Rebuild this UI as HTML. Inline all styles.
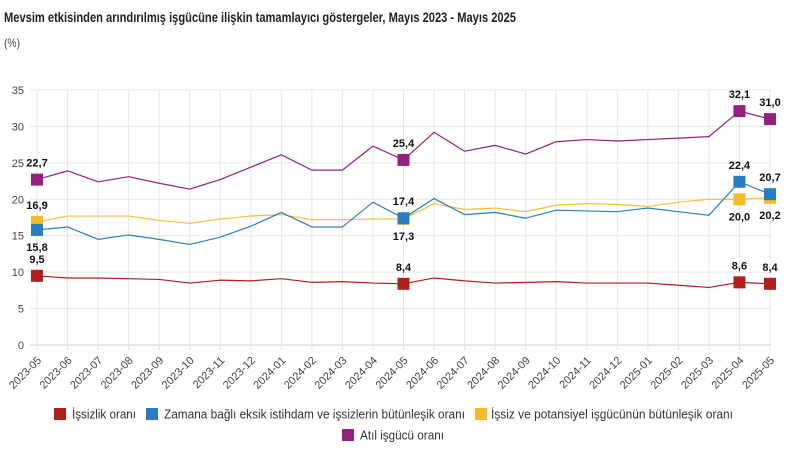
<!DOCTYPE html>
<html>
<head>
<meta charset="utf-8">
<style>
  html,body{margin:0;padding:0;background:#fff;}
  svg{display:block;}
  text{font-family:"Liberation Sans","DejaVu Sans",sans-serif;}
</style>
</head>
<body>
<svg width="803" height="457" viewBox="0 0 803 457" xmlns="http://www.w3.org/2000/svg">
  <rect width="803" height="457" fill="#fff"/>
  <!-- Title -->
  <text x="4" y="22" font-size="14" font-weight="bold" fill="#222" textLength="512" lengthAdjust="spacingAndGlyphs">Mevsim etkisinden arındırılmış işgücüne ilişkin tamamlayıcı göstergeler, Mayıs 2023 - Mayıs 2025</text>
  <text x="4" y="47" font-size="12" fill="#444" textLength="16" lengthAdjust="spacingAndGlyphs">(%)</text>

  <!-- vertical grid lines -->
  <g stroke="#e6e6e6" stroke-width="1">
    <line x1="37" y1="90" x2="37" y2="350"/>
    <line x1="67.54" y1="90" x2="67.54" y2="350"/>
    <line x1="98.08" y1="90" x2="98.08" y2="350"/>
    <line x1="128.63" y1="90" x2="128.63" y2="350"/>
    <line x1="159.17" y1="90" x2="159.17" y2="350"/>
    <line x1="189.71" y1="90" x2="189.71" y2="350"/>
    <line x1="220.25" y1="90" x2="220.25" y2="350"/>
    <line x1="250.79" y1="90" x2="250.79" y2="350"/>
    <line x1="281.33" y1="90" x2="281.33" y2="350"/>
    <line x1="311.88" y1="90" x2="311.88" y2="350"/>
    <line x1="342.42" y1="90" x2="342.42" y2="350"/>
    <line x1="372.96" y1="90" x2="372.96" y2="350"/>
    <line x1="403.5" y1="90" x2="403.5" y2="350"/>
    <line x1="434.04" y1="90" x2="434.04" y2="350"/>
    <line x1="464.58" y1="90" x2="464.58" y2="350"/>
    <line x1="495.13" y1="90" x2="495.13" y2="350"/>
    <line x1="525.67" y1="90" x2="525.67" y2="350"/>
    <line x1="556.21" y1="90" x2="556.21" y2="350"/>
    <line x1="586.75" y1="90" x2="586.75" y2="350"/>
    <line x1="617.29" y1="90" x2="617.29" y2="350"/>
    <line x1="647.83" y1="90" x2="647.83" y2="350"/>
    <line x1="678.38" y1="90" x2="678.38" y2="350"/>
    <line x1="708.92" y1="90" x2="708.92" y2="350"/>
    <line x1="739.46" y1="90" x2="739.46" y2="350"/>
    <line x1="770" y1="90" x2="770" y2="350"/>
  </g>
  <!-- horizontal grid lines -->
  <g stroke="#e6e6e6" stroke-width="1">
    <line x1="30" y1="90" x2="771" y2="90"/>
    <line x1="30" y1="126.43" x2="771" y2="126.43"/>
    <line x1="30" y1="162.86" x2="771" y2="162.86"/>
    <line x1="30" y1="199.29" x2="771" y2="199.29"/>
    <line x1="30" y1="235.71" x2="771" y2="235.71"/>
    <line x1="30" y1="272.14" x2="771" y2="272.14"/>
    <line x1="30" y1="308.57" x2="771" y2="308.57"/>
  </g>
  <line x1="30" y1="345" x2="771" y2="345" stroke="#cccccc" stroke-width="1"/>

  <!-- y labels -->
  <g font-size="11" fill="#444" text-anchor="end">
    <text x="24" y="94">35</text>
    <text x="24" y="130.4">30</text>
    <text x="24" y="166.9">25</text>
    <text x="24" y="203.3">20</text>
    <text x="24" y="239.7">15</text>
    <text x="24" y="276.1">10</text>
    <text x="24" y="312.6">5</text>
    <text x="24" y="349">0</text>
  </g>

  <!-- x labels -->
  <g font-size="11" fill="#444" text-anchor="end">
    <text transform="translate(42,361) rotate(-45)">2023-05</text>
    <text transform="translate(72.54,361) rotate(-45)">2023-06</text>
    <text transform="translate(103.08,361) rotate(-45)">2023-07</text>
    <text transform="translate(133.63,361) rotate(-45)">2023-08</text>
    <text transform="translate(164.17,361) rotate(-45)">2023-09</text>
    <text transform="translate(194.71,361) rotate(-45)">2023-10</text>
    <text transform="translate(225.25,361) rotate(-45)">2023-11</text>
    <text transform="translate(255.79,361) rotate(-45)">2023-12</text>
    <text transform="translate(286.33,361) rotate(-45)">2024-01</text>
    <text transform="translate(316.88,361) rotate(-45)">2024-02</text>
    <text transform="translate(347.42,361) rotate(-45)">2024-03</text>
    <text transform="translate(377.96,361) rotate(-45)">2024-04</text>
    <text transform="translate(408.5,361) rotate(-45)">2024-05</text>
    <text transform="translate(439.04,361) rotate(-45)">2024-06</text>
    <text transform="translate(469.58,361) rotate(-45)">2024-07</text>
    <text transform="translate(500.13,361) rotate(-45)">2024-08</text>
    <text transform="translate(530.67,361) rotate(-45)">2024-09</text>
    <text transform="translate(561.21,361) rotate(-45)">2024-10</text>
    <text transform="translate(591.75,361) rotate(-45)">2024-11</text>
    <text transform="translate(622.29,361) rotate(-45)">2024-12</text>
    <text transform="translate(652.83,361) rotate(-45)">2025-01</text>
    <text transform="translate(683.38,361) rotate(-45)">2025-02</text>
    <text transform="translate(713.92,361) rotate(-45)">2025-03</text>
    <text transform="translate(744.46,361) rotate(-45)">2025-04</text>
    <text transform="translate(775,361) rotate(-45)">2025-05</text>
  </g>

  <!-- Series lines -->
  <g fill="none" stroke-width="1.2" stroke-linejoin="round">
    <polyline stroke="#B01E1E" points="37,275.79 67.54,277.97 98.08,277.97 128.63,278.7 159.17,279.43 189.71,283.07 220.25,280.16 250.79,280.89 281.33,278.7 311.88,282.34 342.42,281.61 372.96,283.07 403.5,283.8 434.04,277.97 464.58,280.89 495.13,283.07 525.67,282.34 556.21,281.61 586.75,283.07 617.29,283.07 647.83,283.07 678.38,285.26 708.92,287.44 739.46,282.34 770,283.8"/>
    <polyline stroke="#F6BE3A" points="37,221.87 67.54,216.04 98.08,216.04 128.63,216.04 159.17,220.41 189.71,223.33 220.25,218.96 250.79,216.04 281.33,214.59 311.88,219.69 342.42,219.69 372.96,218.96 403.5,218.96 434.04,203.66 464.58,209.49 495.13,208.03 525.67,211.67 556.21,205.11 586.75,203.66 617.29,204.39 647.83,206.57 678.38,202.2 708.92,199.29 739.46,199.29 770,197.83"/>
    <polyline stroke="#2E80BF" points="37,229.89 67.54,226.97 98.08,239.36 128.63,234.99 159.17,239.36 189.71,244.46 220.25,237.17 250.79,226.24 281.33,212.4 311.88,226.97 342.42,226.97 372.96,202.2 403.5,218.23 434.04,198.56 464.58,214.59 495.13,212.4 525.67,218.23 556.21,210.21 586.75,210.94 617.29,211.67 647.83,208.03 678.38,211.67 708.92,215.31 739.46,181.8 770,194.19"/>
    <polyline stroke="#96207F" points="37,179.61 67.54,170.87 98.08,181.8 128.63,176.7 159.17,183.26 189.71,189.09 220.25,179.61 250.79,167.23 281.33,154.84 311.88,170.14 342.42,170.14 372.96,146.1 403.5,159.94 434.04,132.26 464.58,151.2 495.13,145.37 525.67,154.11 556.21,141.73 586.75,139.54 617.29,141 647.83,139.54 678.38,138.09 708.92,136.63 739.46,111.13 770,119.14"/>
  </g>

  <!-- Markers -->
  <g fill="#B01E1E">
    <rect x="31" y="269.79" width="12" height="12"/>
    <rect x="397.5" y="277.8" width="12" height="12"/>
    <rect x="733.46" y="276.34" width="12" height="12"/>
    <rect x="764" y="277.8" width="12" height="12"/>
  </g>
  <g fill="#F6BA2A">
    <rect x="31" y="215.87" width="12" height="12"/>
    <rect x="397.5" y="212.96" width="12" height="12"/>
    <rect x="733.46" y="193.29" width="12" height="12"/>
    <rect x="764" y="191.83" width="12" height="12"/>
  </g>
  <g fill="#2A7DC0">
    <rect x="31" y="223.89" width="12" height="12"/>
    <rect x="397.5" y="212.23" width="12" height="12"/>
    <rect x="733.46" y="175.8" width="12" height="12"/>
    <rect x="764" y="188.19" width="12" height="12"/>
  </g>
  <g fill="#96207F">
    <rect x="31" y="173.61" width="12" height="12"/>
    <rect x="397.5" y="153.94" width="12" height="12"/>
    <rect x="733.46" y="105.13" width="12" height="12"/>
    <rect x="764" y="113.14" width="12" height="12"/>
  </g>

  <!-- Data labels -->
  <g font-size="11" font-weight="bold" fill="#111" text-anchor="middle">
    <text x="37" y="166.6">22,7</text>
    <text x="403.5" y="146.9">25,4</text>
    <text x="739.46" y="98.1">32,1</text>
    <text x="770" y="106.1">31,0</text>

    <text x="37" y="250.9">15,8</text>
    <text x="403.5" y="205.2">17,4</text>
    <text x="739.46" y="168.8">22,4</text>
    <text x="770" y="181.2">20,7</text>

    <text x="37" y="208.9">16,9</text>
    <text x="403.5" y="240">17,3</text>
    <text x="739.46" y="220.3">20,0</text>
    <text x="770" y="218.8">20,2</text>

    <text x="37" y="262.8">9,5</text>
    <text x="403.5" y="270.8">8,4</text>
    <text x="739.46" y="269.3">8,6</text>
    <text x="770" y="270.8">8,4</text>
  </g>

  <!-- Legend -->
  <rect x="54" y="408" width="12" height="12" fill="#B01E1E"/>
  <text x="72" y="418.5" font-size="13" fill="#333" textLength="64" lengthAdjust="spacingAndGlyphs">İşsizlik oranı</text>
  <rect x="146" y="408" width="12" height="12" fill="#2A7DC0"/>
  <text x="164" y="418.5" font-size="13" fill="#333" textLength="301" lengthAdjust="spacingAndGlyphs">Zamana bağlı eksik istihdam ve işsizlerin bütünleşik oranı</text>
  <rect x="475" y="408" width="12" height="12" fill="#F6BA2A"/>
  <text x="491" y="418.5" font-size="13" fill="#333" textLength="242" lengthAdjust="spacingAndGlyphs">İşsiz ve potansiyel işgücünün bütünleşik oranı</text>
  <rect x="342" y="429" width="12" height="12" fill="#96207F"/>
  <text x="360" y="439.5" font-size="13" fill="#333" textLength="84" lengthAdjust="spacingAndGlyphs">Atıl işgücü oranı</text>
</svg>
</body>
</html>
